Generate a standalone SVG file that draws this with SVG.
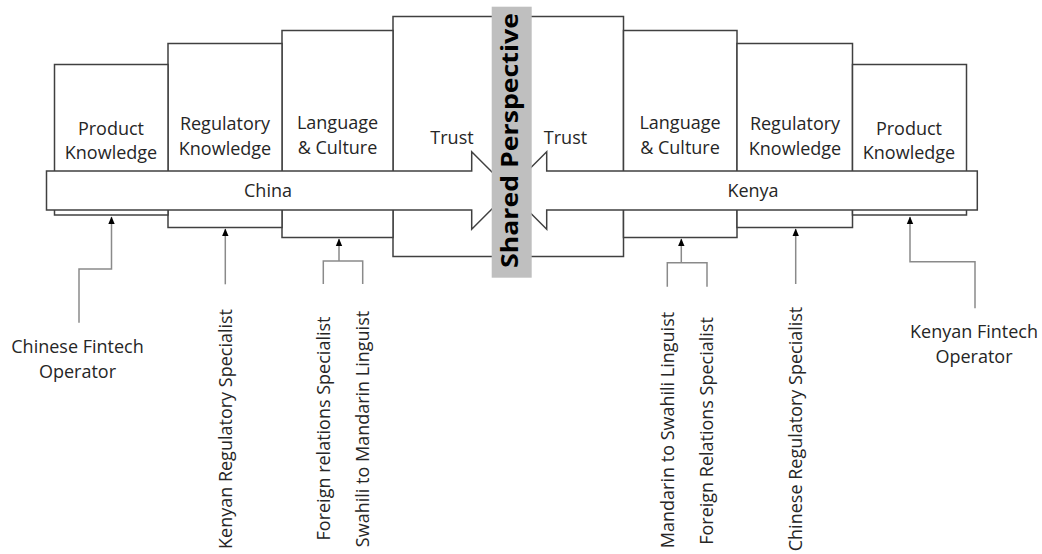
<svg xmlns="http://www.w3.org/2000/svg" width="1042" height="554" viewBox="0 0 1042 554">
<defs>
<marker id="ah" markerUnits="userSpaceOnUse" markerWidth="8" markerHeight="8" viewBox="0 0 8 8" refX="7" refY="4" orient="auto">
<path d="M0,0.8 L7.5,4 L0,7.2 Z" fill="#000"/>
</marker>
<style>
.box{fill:#fff;stroke:#404040;stroke-width:1.5}
.arr{fill:#fff;stroke:#404040;stroke-width:1.5;stroke-linejoin:miter}
.t{font-family:"Open Sans","Liberation Sans",sans-serif;font-size:18px;fill:#262626;text-anchor:middle}
.c{fill:none;stroke:#8a8a8a;stroke-width:1.5}
.bar{fill:#bfbfbf}
.sp{font-family:"Open Sans","Liberation Sans",sans-serif;font-size:24px;font-weight:bold;fill:#000;text-anchor:middle}
</style>
</defs>
<g id="trust-china"><rect class="box" x="393" y="16.5" width="110" height="240"/><text class="t" x="452" y="144">Trust</text></g>
<g id="trust-kenya"><rect class="box" x="520" y="16.5" width="103.5" height="240"/><text class="t" x="565.5" y="144">Trust</text></g>
<g id="lang-china"><rect class="box" x="282" y="30.5" width="111" height="207"/><text class="t" x="337.5" y="129">Language</text><text class="t" x="337.5" y="154">&amp; Culture</text></g>
<g id="reg-china"><rect class="box" x="168" y="43.5" width="114" height="184"/><text class="t" x="225" y="130">Regulatory</text><text class="t" x="225" y="155">Knowledge</text></g>
<g id="prod-china"><rect class="box" x="54.5" y="64.5" width="113.5" height="150.5"/><text class="t" x="111" y="134.5">Product</text><text class="t" x="111" y="159">Knowledge</text></g>
<g id="lang-kenya"><rect class="box" x="623.5" y="30.5" width="113.5" height="207"/><text class="t" x="680" y="129">Language</text><text class="t" x="680" y="154">&amp; Culture</text></g>
<g id="reg-kenya"><rect class="box" x="737" y="43.5" width="115.5" height="184"/><text class="t" x="795" y="130">Regulatory</text><text class="t" x="795" y="155">Knowledge</text></g>
<g id="prod-kenya"><rect class="box" x="852.5" y="64.5" width="114" height="150.5"/><text class="t" x="909" y="134.5">Product</text><text class="t" x="909" y="159">Knowledge</text></g>
<g id="china-arrow"><path class="arr" d="M46.5,171 H471.7 V151.7 L510.5,190.5 L471.7,229.3 V210 H46.5 Z"/><text class="t" x="268" y="197">China</text></g>
<g id="kenya-arrow"><path class="arr" d="M977.3,171 H546.7 V151.7 L508,190.5 L546.7,229.3 V210 H977.3 Z"/><text class="t" x="753" y="197">Kenya</text></g>
<g id="shared-perspective"><rect class="bar" x="491.7" y="6.7" width="40" height="271"/><text class="sp" transform="translate(518,140.5) rotate(-90)" x="0" y="0" textLength="255" lengthAdjust="spacingAndGlyphs">Shared Perspective</text></g>
<g id="connectors">
<path class="c" d="M79,322.7 V269 H111.5 V217" marker-end="url(#ah)"/>
<path class="c" d="M225.3,284.3 V229" marker-end="url(#ah)"/>
<path class="c" d="M323.3,284 V261 H362.7 V284"/>
<path class="c" d="M339,261 V239" marker-end="url(#ah)"/>
<path class="c" d="M667.3,286.7 V262.7 H707 V286.7"/>
<path class="c" d="M681.3,262.7 V239" marker-end="url(#ah)"/>
<path class="c" d="M795.7,284 V229" marker-end="url(#ah)"/>
<path class="c" d="M975,308.3 V261.7 H910 V217" marker-end="url(#ah)"/>
</g>
<g id="chinese-fintech-operator"><text class="t" x="77.5" y="353">Chinese Fintech</text><text class="t" x="77.5" y="378">Operator</text></g>
<g id="kenyan-reg-specialist"><text class="t" transform="translate(231.5,429) rotate(-90)">Kenyan Regulatory Specialist</text></g>
<g id="foreign-relations-specialist-cn"><text class="t" transform="translate(329.5,428.5) rotate(-90)">Foreign relations Specialist</text></g>
<g id="swahili-mandarin-linguist"><text class="t" transform="translate(368.5,429) rotate(-90)">Swahili to Mandarin Linguist</text></g>
<g id="mandarin-swahili-linguist"><text class="t" transform="translate(673.5,430) rotate(-90)">Mandarin to Swahili Linguist</text></g>
<g id="foreign-relations-specialist-ke"><text class="t" transform="translate(713,431) rotate(-90)">Foreign Relations Specialist</text></g>
<g id="chinese-reg-specialist"><text class="t" transform="translate(802,429) rotate(-90)">Chinese Regulatory Specialist</text></g>
<g id="kenyan-fintech-operator"><text class="t" x="974" y="338">Kenyan Fintech</text><text class="t" x="974" y="363">Operator</text></g>
</svg>
